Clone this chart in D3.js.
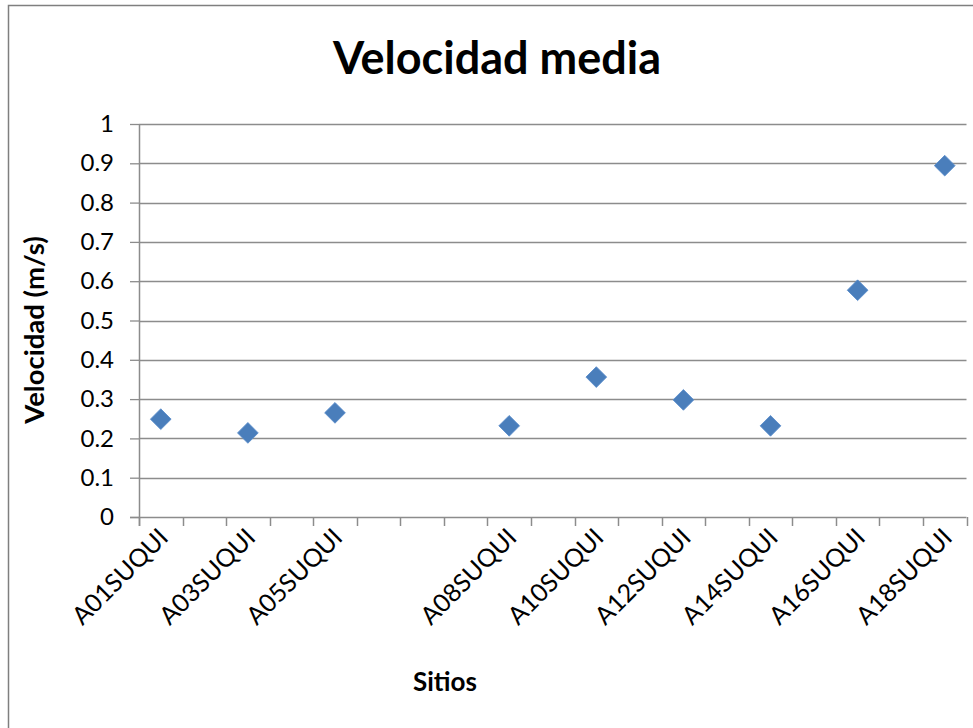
<!DOCTYPE html>
<html><head><meta charset="utf-8">
<script src="https://cdn.jsdelivr.net/npm/d3@7/dist/d3.min.js"></script>
<style>
html,body{margin:0;padding:0;background:#fff;}
svg{display:block;font-family:Lato,"Open Sans",sans-serif;}
</style></head><body>
<svg id="chart" width="973" height="728"></svg>
<script>
const categories = ["A01SUQUI","A02SUQUI","A03SUQUI","A04SUQUI","A05SUQUI","A06SUQUI","","A07SUQUI","A08SUQUI","A09SUQUI","A10SUQUI","A11SUQUI","A12SUQUI","A13SUQUI","A14SUQUI","A15SUQUI","A16SUQUI","A17SUQUI","A18SUQUI"];
const velocidad = [0.249,null,0.214,null,0.265,null,null,null,0.232,null,0.356,null,0.298,null,0.232,null,0.577,null,0.894];
const yTicks = [0,0.1,0.2,0.3,0.4,0.5,0.6,0.7,0.8,0.9,1];
const yTickLabels = ["0","0.1","0.2","0.3","0.4","0.5","0.6","0.7","0.8","0.9","1"];
const title = "Velocidad media";
const xTitle = "Sitios";
const yTitle = "Velocidad (m/s)";

const svg = d3.select("#chart");
const L = 139, R = 966.5, T = 124, B = 517;

svg.append("rect").attr("x",8.5).attr("y",5.5).attr("width",1000).attr("height",800)
  .attr("fill","#fff").attr("stroke","#7f7f7f").attr("stroke-width",1.5);

const x = d3.scaleBand().domain(d3.range(categories.length)).range([L,R]).padding(0);
const y = d3.scaleLinear().domain([0,1]).range([B,T]);

// gridlines
svg.append("g").selectAll("line").data(yTicks.filter(d=>d>0)).join("line")
  .attr("x1",L).attr("x2",R).attr("y1",d=>Math.round(y(d))+0.5).attr("y2",d=>Math.round(y(d))+0.5)
  .attr("stroke","#8c8c8c").attr("stroke-width",1.3);

// y axis
const yAxis = d3.axisLeft(y).tickValues(yTicks).tickFormat((d,i)=>yTickLabels[i]).tickSize(9).tickPadding(16);
const gy = svg.append("g").attr("transform",`translate(${L},0)`).call(yAxis);
gy.select(".domain").remove();
gy.selectAll(".tick line").attr("stroke","#8c8c8c").attr("stroke-width",1.3);
gy.selectAll(".tick text").attr("font-size",24).attr("fill","#000").attr("font-family","Lato");
svg.append("line").attr("x1",L+0.5).attr("x2",L+0.5).attr("y1",T).attr("y2",B+9)
  .attr("stroke","#8c8c8c").attr("stroke-width",1.5);

// x axis
const xEdges = d3.range(categories.length+1).map(i=> i<categories.length ? x(i) : R);
svg.append("line").attr("x1",L-9).attr("x2",R).attr("y1",B+0.5).attr("y2",B+0.5)
  .attr("stroke","#8c8c8c").attr("stroke-width",1.5);
svg.append("g").selectAll("line").data(xEdges).join("line")
  .attr("x1",d=>Math.round(d)+0.5).attr("x2",d=>Math.round(d)+0.5).attr("y1",B).attr("y2",B+9)
  .attr("stroke","#8c8c8c").attr("stroke-width",1.5);

// x labels (every second)
svg.append("g").selectAll("text").data(categories.map((c,i)=>({c,i})).filter(d=>d.i%2===0 && d.c))
  .join("text")
  .attr("transform",d=>`translate(${x(d.i)+x.bandwidth()/2+9},${B+22}) rotate(-45)`)
  .attr("text-anchor","end").attr("font-size",25).attr("font-family","Lato").attr("fill","#000")
  .text(d=>d.c);

// points
const sym = d3.symbol().type(d3.symbolSquare).size(215);
svg.append("g").selectAll("path").data(velocidad.map((v,i)=>({v,i})).filter(d=>d.v!==null))
  .join("path")
  .attr("d",sym)
  .attr("transform",d=>`translate(${x(d.i)+x.bandwidth()/2},${y(d.v)}) rotate(45)`)
  .attr("fill","#4a7ebb").attr("stroke","#5a8ccb").attr("stroke-width",0.8);

// titles
svg.append("text").attr("x",497).attr("y",74).attr("text-anchor","middle")
  .attr("font-size",45).attr("font-weight","bold").attr("font-family","Lato").text(title);
svg.append("text").attr("x",445).attr("y",691).attr("text-anchor","middle")
  .attr("font-size",26).attr("font-weight","bold").attr("font-family","Lato").text(xTitle);
svg.append("text").attr("transform","translate(44,330) rotate(-90)").attr("text-anchor","middle")
  .attr("font-size",27.5).attr("font-weight","bold").attr("font-family","Lato").text(yTitle);
</script>
</body></html>
